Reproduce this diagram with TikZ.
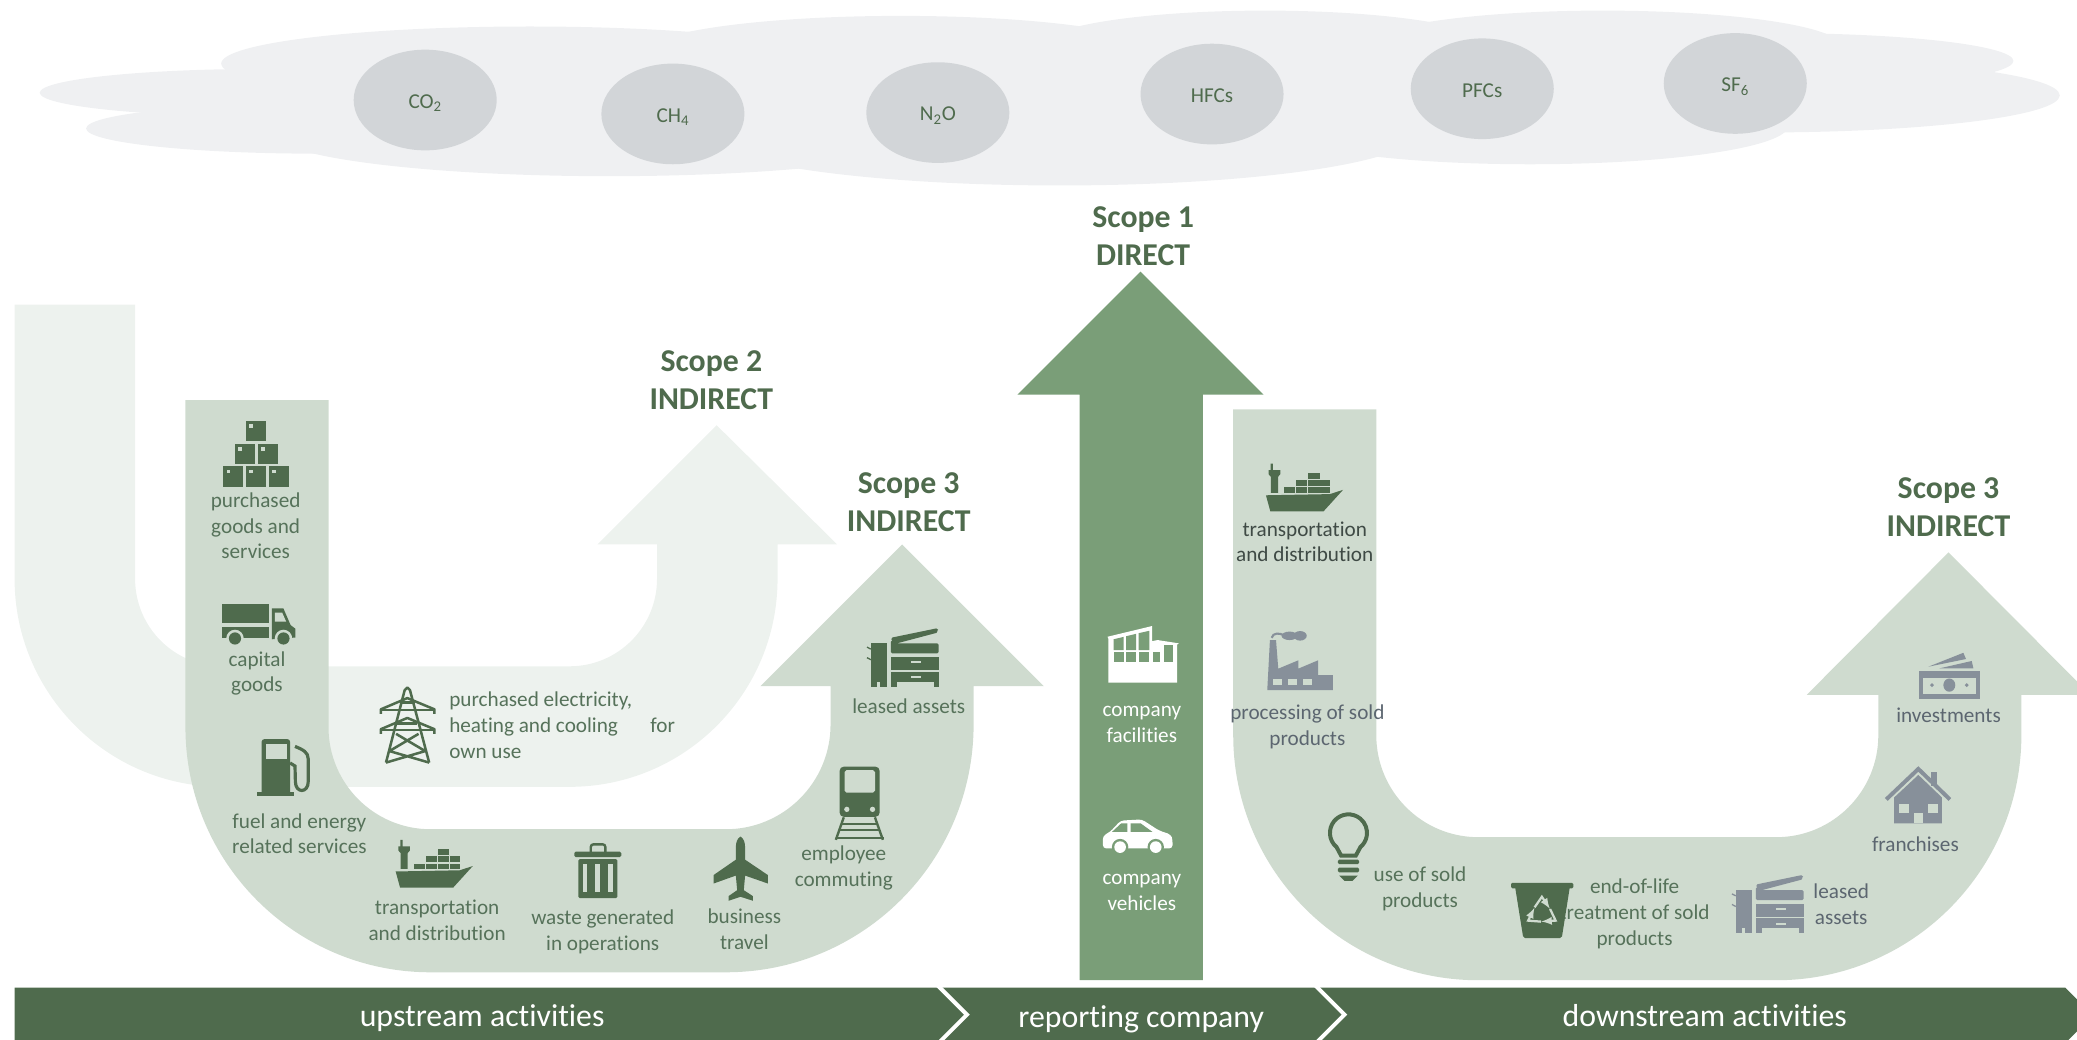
\documentclass[tikz,border=0pt]{standalone}
\usepackage{fontspec}
\setmainfont{Carlito}[Ligatures=NoCommon]
\usetikzlibrary{shapes.geometric}

\definecolor{dkgreen}{HTML}{4F6B4D}
\definecolor{midgreen}{HTML}{7A9E78}
\definecolor{sand}{HTML}{CFDBCF}
\definecolor{palegreen}{HTML}{EDF2EE}
\definecolor{cloudgrey}{HTML}{EFF0F2}
\definecolor{gasgrey}{HTML}{D2D5D8}
\definecolor{icongrey}{HTML}{87909A}
\definecolor{txtgreen}{HTML}{56725A}
\definecolor{txtgrey}{HTML}{5C6670}
\definecolor{txtdark}{HTML}{3F4A45}

\tikzset{
	lbl/.style={inner sep=0pt,align=center,text=txtgreen,font=\fontsize{16}{19.4}\selectfont},
	lblgrey/.style={lbl,text=txtgrey},
	lbldark/.style={lbl,text=txtdark},
	lblwhite/.style={lbl,text=white},
	scopehd/.style={inner sep=0pt,align=center,text=dkgreen,font=\fontsize{24}{28.6}\selectfont\bfseries},
	barlbl/.style={inner sep=0pt,anchor=base,text=white,font=\fontsize{24}{29}\selectfont},
	gas/.style={ellipse,fill=gasgrey,inner sep=0pt,minimum width=108pt,minimum height=76pt,text height=12.5pt,text depth=0pt,text=dkgreen,font=\fontsize{16}{19.4}\selectfont},
	pics/shipicon/.style={code={
		\fill[#1] (0.7,23.9) -- (49,23) -- (58.9,19.8) -- (44.2,36) -- (4,36) -- cycle;
		\fill[#1] (2.7,5) -- (4.2,5) -- (4.2,0) -- (6,0) -- (6,5) -- (11.5,5) -- (11.5,8) -- (9.8,10) -- (9.8,22) -- (4.4,22) -- (4.4,10) -- (2.7,8) -- cycle;
		\foreach \xa/\xb/\ya/\yb in {14.6/23/18/22,23.7/32/18/22,32.4/41.2/18/22,41.7/49.3/18/22,23.7/32/12.5/17,32.4/41.2/12.5/17,41.7/49.3/12.5/17,32.4/41.2/7/11.5} {
			\fill[#1] (\xa,\ya) rectangle (\xb,\yb);
		}
	}},
	pics/copiericon/.style={code={
		\fill[#1] (2.4,11.7) rectangle (14.5,44.4);
		\draw[#1,line width=1pt] (2.4,16) -- (-0.5,14.5) (2.4,24) -- (-0.5,22.5);
		\fill[sand] (7,40.5) rectangle (9.5,44.4);
		\fill[#1,rounded corners=1pt] (17.6,19.2) -- (17.6,9.5) -- (52.2,1.6) -- (53,3.5) -- (22,11.7) -- (53.6,11.7) -- (53.6,19.2) -- cycle;
		\draw[#1,line width=2.4pt,line cap=round] (19,8.4) -- (52,1.6);
		\fill[#1] (17.6,21.8) rectangle (53.6,31.9);
		\fill[#1] (17.6,33) rectangle (53.6,44.4);
		\fill[sand] (22,40.5) rectangle (50,44.4);
		\fill[sand] (32.6,25) rectangle (40.1,26.8);
		\fill[sand] (32.6,36.4) rectangle (40.1,38);
	}},
}

\begin{document}
\begin{tikzpicture}[x=1pt,y=-1pt]
\useasboundingbox (0,0) rectangle (1568,785);
\clip (0,0) rectangle (1568,785);

% cloud
\foreach \cx/\cy/\rx/\ry in {200/70/170/18,400/48/233/28,240/97/175/19,460/100/255/33,800/100/270/40,1155/95/195/29,1330/72/225/28,1340/46/180/21,1210/35/180/27,955/35/170/27,680/40/195/28} {
	\fill[cloudgrey] (\cx,\cy) ellipse ({\rx} and {\ry});
}
\fill[cloudgrey] (200,45) rectangle (1350,100);

\node[gas] (co2) at (321,75.5) {CO\textsubscript{2}};
\node[gas] (ch4) at (508,86) {CH\textsubscript{4}};
\node[gas] (n2o) at (708,85) {N\textsubscript{2}O};
\node[gas] (hfcs) at (915,71) {HFCs};
\node[gas] (pfcs) at (1119,67) {PFCs};
\node[gas] (sf6) at (1310,63) {SF\textsubscript{6}};

% arrows
\fill[palegreen] (11,230) -- (11,437) arc (180:90:157) -- (430,594) arc (90:0:157) -- (587,411) -- (632,411) -- (541,321) -- (451,411) -- (496,411) -- (496,437) arc (0:90:66) -- (168,503) arc (90:180:66) -- (102,230) -- cycle;
\fill[sand] (140,302) -- (140,549) arc (180:90:185) -- (548,734) arc (90:0:187) -- (735,518) -- (788,518) -- (681,411) -- (574,518) -- (627,518) -- (627,547) arc (0:90:79) -- (325,626) arc (90:180:77) -- (248,302) -- cycle;
\fill[midgreen] (815,740) -- (815,298) -- (768,298) -- (861,205) -- (954,298) -- (908,298) -- (908,740) -- cycle;
\fill[sand] (931,309) -- (931,555) arc (180:90:185) -- (1341,740) arc (90:0:185) -- (1526,524.5) -- (1578,524.5) -- (1471,417) -- (1364,524.5) -- (1418,524.5) -- (1418,555) arc (0:90:77) -- (1116,632) arc (90:180:77) -- (1039,309) -- cycle;

% bar
\fill[dkgreen] (11,745.5) -- (1559,745.5) -- (1580,766.5) -- (1559,787.5) -- (11,787.5) -- cycle;
\draw[white,line width=3pt] (708,744) -- (730,766) -- (708,788);
\draw[white,line width=3pt] (993,744) -- (1015,766) -- (993,788);
\node[barlbl] (upstream) at (364,775) {upstream activities};
\node[barlbl] (reporting) at (861.5,775.5) {reporting company};
\node[barlbl] (downstream) at (1287,775) {downstream activities};

% headings
\node[scopehd] (scopeone) at (863,178) {Scope 1\\DIRECT};
\node[scopehd] (scopetwo) at (537,287) {Scope 2\\INDIRECT};
\node[scopehd] (scopethreeup) at (686,379) {Scope 3\\INDIRECT};
\node[scopehd] (scopethreedown) at (1471,383) {Scope 3\\INDIRECT};

% labels
\node[lbl] (goods) at (193,397) {purchased\\goods and\\services};
\node[lbl] (capital) at (194,508.5) {capital\\goods};
\node[lbl] (fuel) at (226,629.5) {fuel and energy\\related services};
\node[lbl] (transup) at (330,695) {transportation\\and distribution};
\node[lbl] (waste) at (455,703.5) {waste generated\\in operations};
\node[lbl] (travel) at (562,701.5) {business\\travel};
\node[lbl] (commuting) at (637,655.5) {employee\\commuting};
\node[lbl] (leasedup) at (686,533) {leased assets};
\node[lbl,align=left,anchor=west] (power) at (339,547.5) {purchased electricity,\\heating and cooling\hspace{24.5pt}for\\own use};
\node[lblwhite] (facilities) at (862,547) {company\\facilities};
\node[lblwhite] (vehicles) at (862,673.5) {company\\vehicles};
\node[lbldark] (transdown) at (985,409) {transportation\\and distribution};
\node[lblgrey] (processing) at (987,548.5) {processing of sold\\products};
\node[lbl] (usesold) at (1072,671) {use of sold\\products};
\node[lbl] (endlife) at (1234,690) {end-of-life\\treatment of sold\\products};
\node[lblgrey] (leaseddown) at (1390,682.5) {leased\\assets};
\node[lblgrey] (franchises) at (1446,637) {franchises};
\node[lblgrey] (investments) at (1471,540) {investments};

% boxes
\foreach \bx/\by in {185.7/317.5,177.5/335,194.5/335,168.5/352,185.7/352,203/352} {
	\fill[dkgreen] (\bx,\by) rectangle +(15.2,15.4);
	\fill[sand] (\bx+2.5,\by+2.5) rectangle +(2.8,2.8);
}
% truck
\fill[dkgreen] (167.4,455.7) rectangle (203,470.4);
\fill[dkgreen] (167.4,473.2) rectangle (203,482);
\fill[dkgreen] (205.3,459.2) -- (213.9,459.2) -- (219.4,471.9) -- (223,474.6) -- (223,481.3) -- (205.3,482.6) -- cycle;
\fill[sand] (207.6,462.4) -- (213,462.4) -- (216,469.2) -- (207.6,469.2) -- cycle;
\foreach \wx in {177.4,214} {
	\fill[sand] (\wx,482) circle (6.6);
	\fill[dkgreen] (\wx,482) circle (4.6);
}
% pump
\fill[dkgreen,rounded corners=2pt] (197.5,600) -- (197.5,558) -- (219,558) -- (219,600) -- cycle;
\fill[dkgreen] (194,598) rectangle (222,601);
\fill[sand] (200.9,562) rectangle (216.4,573);
\draw[dkgreen,line width=2.4pt] (222.7,563.5) .. controls (229,566) and (232.7,568) .. (232.7,573) -- (232.7,590) .. controls (232.7,599) and (223,599) .. (223,590) -- (222.7,578.3) -- (219,576);
% pylon
\begin{scope}[dkgreen,line width=1.9pt,line join=round]
\draw (291.4,575.7) -- (305.5,521) -- (307.5,519) -- (309.5,521) -- (324,575.7);
\draw (287.5,539) -- (287.5,535.5) -- (307.5,527) -- (328,535.5) -- (328,539);
\draw (287.5,554) -- (287.5,550.5) -- (307.5,542) -- (328,550.5) -- (328,554);
\draw (287.5,536) -- (328,536) (287.5,551) -- (328,551);
\draw (302,530.5) -- (313,530.5) (300,546) -- (315,546);
\draw (299,554) -- (321,567) -- (291.4,575.7) (316,554) -- (294,567) -- (324,575.7);
\end{scope}
% ships
\pic at (298,634) {shipicon=dkgreen};
\pic at (955,350) {shipicon=dkgreen};
% bin
\fill[dkgreen,rounded corners=1pt] (433.6,643) rectangle (469,647);
\draw[dkgreen,line width=1.8pt,rounded corners=2pt] (446,644) -- (446,637.4) -- (457,637.4) -- (457,644);
\fill[dkgreen,rounded corners=1pt] (436.6,648.6) rectangle (466,678);
\foreach \sx in {440,449.3,459.2} {
	\fill[sand] (\sx,652) rectangle +(3.4,21.6);
}
% plane
\fill[dkgreen] (559,631.5) .. controls (561.5,633) and (562.5,636) .. (562.5,640) -- (562.5,649) -- (579.7,660.6) -- (579.7,667) -- (562.5,661) -- (561.5,672) -- (568.4,676.5) -- (568.4,680) -- (559,677) -- (550,680) -- (550,676.5) -- (556.5,672) -- (555.5,661) -- (538.7,667) -- (538.7,660.6) -- (555.5,649) -- (555.5,640) .. controls (555.5,636) and (556.5,633) .. (559,631.5) -- cycle;
% train
\fill[dkgreen,rounded corners=3pt] (633.9,578.8) rectangle (664,616.6);
\fill[sand,rounded corners=1.5pt] (637.6,581.4) rectangle (660.6,598.4);
\fill[sand] (639.3,611) circle (2) (658.7,611) circle (2);
\draw[dkgreen,line width=1.8pt] (637,617) -- (631,634) (660.5,617) -- (666.5,634);
\draw[dkgreen,line width=1.5pt] (635.5,621.7) -- (662,621.7) (634,626.7) -- (664,626.7) (631,632.9) -- (667,632.9);
% copiers
\pic at (655,474) {copiericon=dkgreen};
\pic at (1308,660.3) {copiericon=icongrey};
% facilities
\fill[white] (836.1,480.7) -- (869.8,472.6) -- (869.8,484) -- (873.9,483.2) -- (890,485.7) -- (888.7,486.5) -- (888.7,515.4) -- (836.7,515.4) -- (836.7,482) -- cycle;
\foreach \wa/\wb/\ta/\tb in {840.7/848.3/482.6/480.8,850.2/857.7/480.3/478.5,859.6/867.7/478/476.2} {
	\fill[midgreen] (\wa,492) rectangle (\wb,499.5);
	\fill[midgreen] (\wa,\ta) -- (\wb,\tb) -- (\wb,490.7) -- (\wa,490.7) -- cycle;
}
\fill[midgreen] (870.5,492) rectangle (875.5,499.5);
\fill[midgreen] (879,487) rectangle (885.2,499.6);
% car
\fill[white,rounded corners=2.5pt] (832.6,640.5) -- (832.6,631) -- (838,628) -- (846,619.5) -- (862,618.6) -- (875,627) -- (884,630) -- (885.2,634) -- (885.2,640.5) -- cycle;
\fill[midgreen] (839.5,628) -- (846.5,621.5) -- (851,621.5) -- (851,628) -- cycle;
\fill[midgreen] (853.5,621.5) -- (861,621.5) -- (870,628) -- (853.5,628) -- cycle;
\foreach \wx in {845.6,872.5} {
	\fill[midgreen] (\wx,639.5) circle (6.2);
	\fill[white] (\wx,639.5) circle (4.4);
}
% factory
\fill[icongrey] (956.7,521) -- (958.7,483.2) -- (963.3,483.2) -- (965,504.8) -- (980.1,498.5) -- (980.1,504.8) -- (995,498.5) -- (995,509.6) -- (1006.3,509.6) -- (1006.3,521) -- cycle;
\foreach \wx in {961.3,972.6,983.9} {
	\fill[sand] (\wx,512.3) rectangle +(6.6,4.9);
}
\draw[icongrey,line width=1.6pt] (960,481.5) .. controls (961,477.5) and (966,477.5) .. (970,480);
\fill[icongrey] (973.5,480) ellipse (6 and 3.2);
\fill[icongrey] (981.5,480) ellipse (5 and 3.6);
% bulb
\draw[dkgreen,line width=3pt] (1012.5,646) -- (1009,639.5) arc (130:410:14) -- (1023.5,646) -- cycle;
\fill[dkgreen,rounded corners=1pt] (1010,649) rectangle (1026,652.3);
\fill[dkgreen,rounded corners=1pt] (1010,655) rectangle (1026,658.5);
\fill[dkgreen] (1011,661) -- (1025,661) -- (1021,665) -- (1015,665) -- cycle;
% recycle bin
\fill[dkgreen,rounded corners=1pt] (1140.7,666.5) rectangle (1187.7,670.6);
\fill[dkgreen,rounded corners=1.5pt] (1143.7,669) -- (1185.2,669) -- (1179,708.3) -- (1150,708.3) -- cycle;
\foreach \ang in {0,120,240} {
	\draw[sand,line width=1.7pt,-latex,shift={(1164,689)},rotate=\ang] (-5.5,-4) -- (0,-12) -- (6,-3);
}
% house
\fill[icongrey] (1430,621.6) -- (1430,602) -- (1448.2,585) -- (1466,602) -- (1466,621.6) -- cycle;
\fill[icongrey] (1457.5,582.6) rectangle (1462.6,593);
\draw[icongrey,line width=3pt] (1424,603.5) -- (1448.2,580.5) -- (1472,603.5);
\fill[sand] (1445,614) rectangle (1452,621.6);
\fill[sand] (1433.9,607) rectangle (1441.4,614);
\fill[sand] (1455.3,607) rectangle (1462.8,614);
% money
\fill[icongrey] (1448.7,506.6) rectangle (1494.8,527.5);
\fill[sand] (1452,511.5) rectangle (1491.5,524.2);
\fill[icongrey] (1471.6,517.2) ellipse (4.5 and 5);
\fill[icongrey] (1458.5,517.2) circle (1.5) (1484.7,517.2) circle (1.5);
\fill[icongrey] (1455.8,503.3) -- (1482.2,492.8) -- (1484.2,497.5) -- cycle;
\fill[icongrey] (1464,504.6) -- (1488.5,499) -- (1489.8,504.6) -- cycle;

\end{tikzpicture}
\end{document}
